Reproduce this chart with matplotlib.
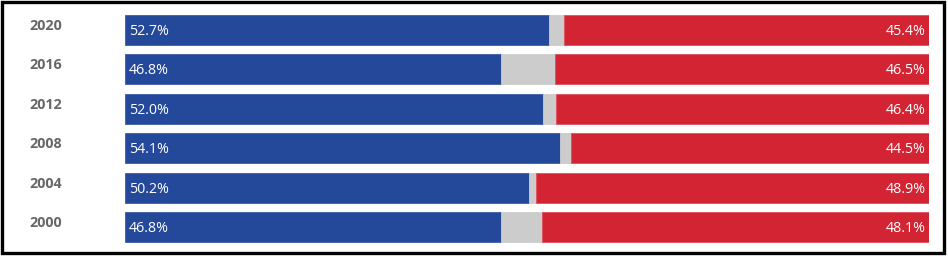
import matplotlib
matplotlib.use("Agg")
import matplotlib.pyplot as plt
from matplotlib.patches import Rectangle

# election results, top to bottom as in the picture
years = ["2020", "2016", "2012", "2008", "2004", "2000"]
dem = [52.7, 46.8, 52.0, 54.1, 50.2, 46.8]
rep = [45.4, 46.5, 46.4, 44.5, 48.9, 48.1]
other = [round(100 - d - r, 1) for d, r in zip(dem, rep)]

blue = "#24489a"
red = "#d32433"
grey = "#cccccc"

W, H = 948, 257
fig = plt.figure(figsize=(W / 100, H / 100), dpi=100)

# axes placed over the bar area (pixel coords)
x0, x1 = 125, 929
y_top, y_bot = 10.3, 246.7
ax = fig.add_axes([x0 / W, 1 - y_bot / H, (x1 - x0) / W, (y_bot - y_top) / H])

pos = list(range(len(years)))
bh = 0.76
ax.barh(pos, dem, height=bh, color=blue, edgecolor="#3a5ca8", linewidth=0.6)
ax.barh(pos, other, left=dem, height=bh, color=grey, edgecolor=grey, linewidth=0.6)
left_r = [d + o for d, o in zip(dem, other)]
ax.barh(pos, rep, left=left_r, height=bh, color=red, edgecolor="#e0505c", linewidth=0.6)

for i, y in enumerate(years):
    ax.text(0.5, i + 0.04, f"{dem[i]:.1f}%", color="white", va="center", ha="left",
            fontsize=10.3, family="Open Sans")
    ax.text(99.6, i + 0.04, f"{rep[i]:.1f}%", color="white", va="center", ha="right",
            fontsize=10.3, family="Open Sans")
    ax.text(-9.9, i - 0.1, y, color="#666666", va="center", ha="center",
            fontsize=10.3, fontweight="bold", family="Open Sans")

ax.set_xlim(0, 100)
ax.set_ylim(len(years) - 0.5, -0.5)
ax.axis("off")

# black frame round the chart
fig.patches.append(Rectangle((1.5 / W, 1 - 252.5 / H), 942 / W, 251 / H,
                             transform=fig.transFigure, fill=False,
                             edgecolor="black", linewidth=2.4))

fig.savefig("out.png", dpi=100)
